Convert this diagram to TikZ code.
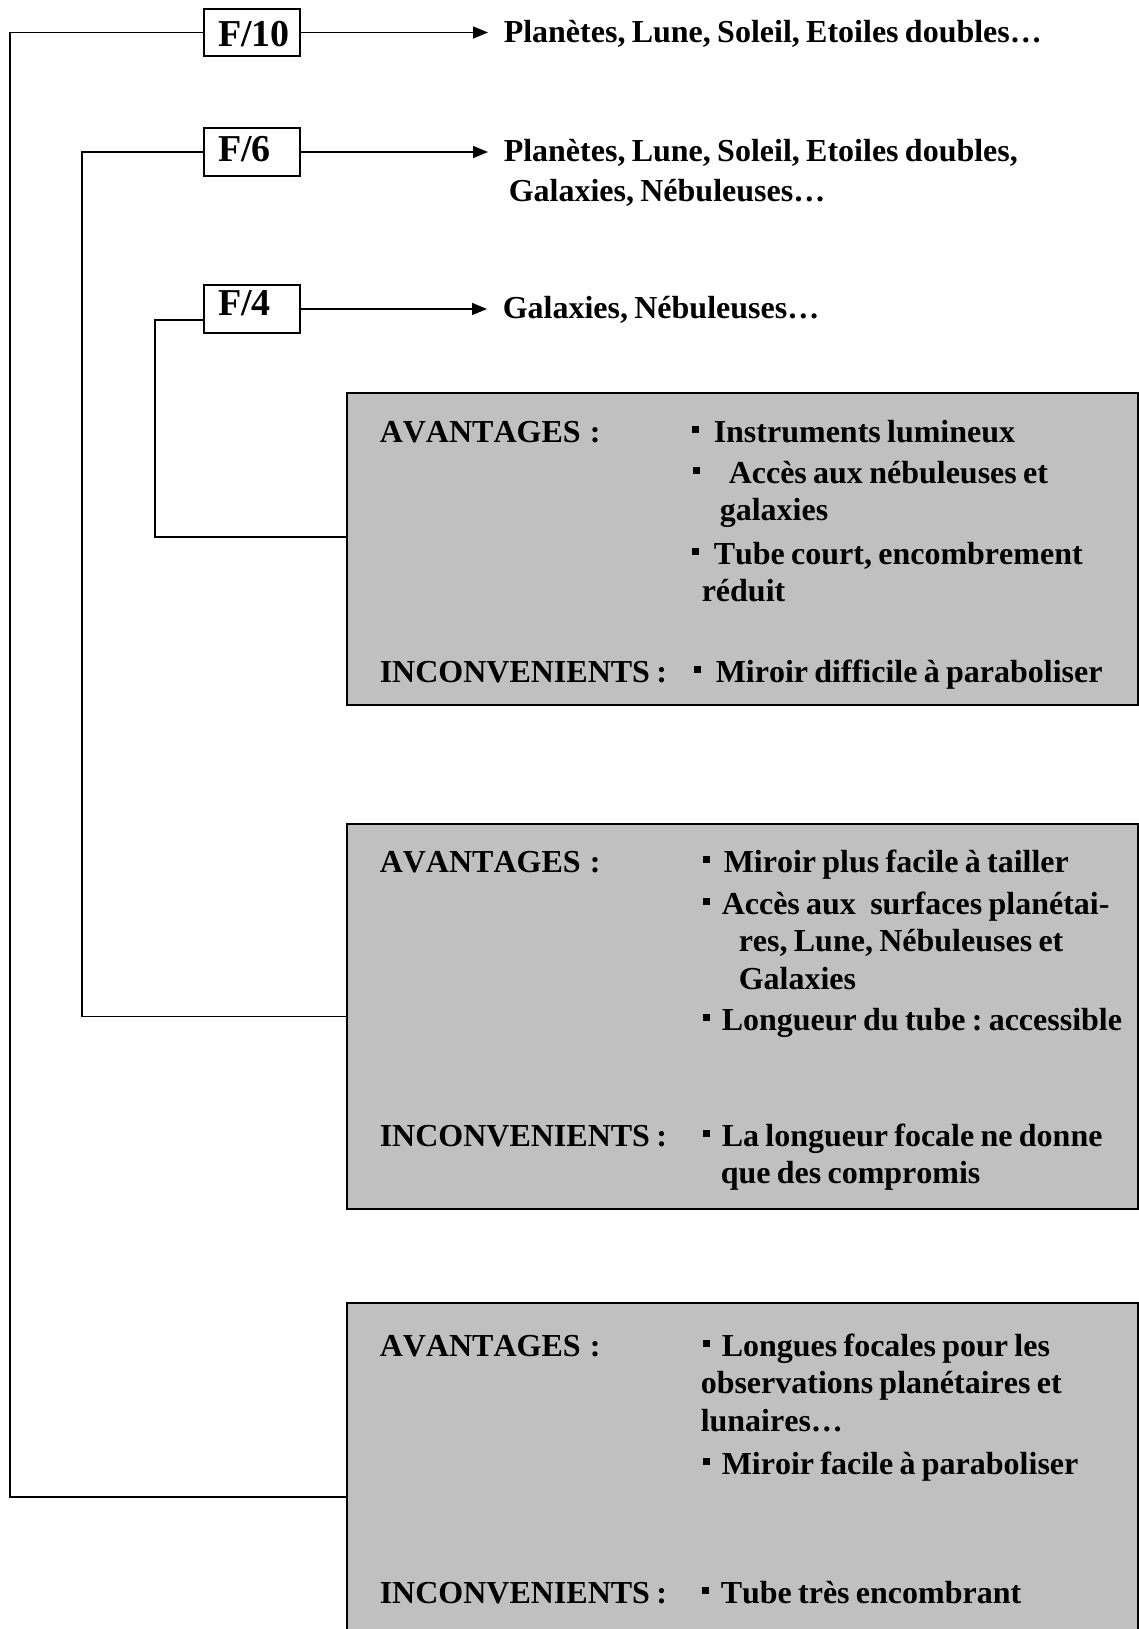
\documentclass[tikz,border=0pt]{standalone}
\usepackage{fontspec}
\setmainfont[Kerning=Off]{Liberation Serif}
\usetikzlibrary{arrows.meta}
\definecolor{panelgray}{RGB}{192,192,192}
\newcommand{\puce}{\rule[4.5pt]{3.5pt}{3.5pt}}
\newcommand{\serre}{\spaceskip=3.15pt plus 1pt minus 0.5pt\relax}
\frenchspacing

\begin{document}
\begin{tikzpicture}[x=0.5pt,y=-0.5pt,line width=0.75pt,
	fbox/.style={draw,line width=1pt,anchor=north west,inner xsep=7pt,inner ysep=0pt,
		text width=34pt,align=left,
		font=\fontsize{19pt}{21pt}\selectfont\bfseries},
	panel/.style={draw,line width=1.1pt,fill=panelgray,anchor=north west,inner sep=0pt,
		minimum width=395.5pt},
	txt/.style={anchor=base west,inner sep=0pt,text width=420pt,align=left,
		font=\fontsize{16pt}{18.75pt}\selectfont\bfseries,execute at begin node=\serre}]
	\useasboundingbox (0,0) rectangle (1139,1629);
	\clip (0,0) rectangle (1139,1629);
	% focal ratios
	\foreach \n/\y/\h/\d in {10/8/18.5/5, 6/127/16.5/7.5, 4/284/15/9}
	\node[fbox,text height=\h pt,text depth=\d pt] (f\n) at (203,\y) {F/\n};
	% what each one shows
	\node[txt] (t10) at (503,42) {Planètes, Lune, Soleil, Etoiles doubles…};
	\node[txt] (t6) at (503,161) {Planètes, Lune, Soleil, Etoiles doubles,\\[1.25pt]\hspace*{2.5pt}Galaxies, Nébuleuses…};
	\node[txt] (t4) at (502,318) {Galaxies, Nébuleuses…};
	\foreach \n in {10,6,4}
	\draw[-{Triangle[length=7.5pt,width=6pt]},shorten >=7.5pt] (f\n.east) -- (f\n.east -| t\n.west);
	% panels
	\node[panel,minimum height=156pt] (pan1) at (346,392) {};
	\node[panel,minimum height=192.5pt] (pan2) at (346,823) {};
	\node[panel,minimum height=194pt] (pan3) at (346,1302) {};
	\draw (f10.west) -| ([xshift=-168pt]pan3.west) -- (pan3.west);
	\draw (f6.west) -| ([xshift=-132pt]pan2.west) -- (pan2.west);
	\draw ([yshift=-5.5pt]f4.west) -| ([xshift=-95.5pt,yshift=6pt]pan1.west) -- ([yshift=6pt]pan1.west);
	% F/4
	\node[txt] (av1) at (379,442) {AVANTAGES\hspace{1.5pt} :};
	\node[txt] (p1a) at (691,442) {\puce\hspace{7.5pt}Instruments lumineux};
	\node[txt] (p1b) at (692,483) {\puce\hspace{14.5pt}Accès aux nébuleuses et\\\hspace*{13.5pt}galaxies};
	\node[txt] (p1c) at (691,564) {\puce\hspace{7.5pt}Tube court, encombrement\\\hspace*{5pt}réduit};
	\node[txt] (in1) at (379,682) {INCONVENIENTS :};
	\node[txt] (p1d) at (693,682) {\puce\hspace{7.5pt}Miroir difficile à paraboliser};
	% F/6
	\node[txt] (av2) at (379,872) {AVANTAGES\hspace{1.5pt} :};
	\node[txt] (p2a) at (702,872) {\puce\hspace{7pt}Miroir plus facile à tailler};
	\node[txt] (p2b) at (702,914) {\puce\hspace{6pt}Accès aux\hspace{4pt} surfaces planétai-\\\hspace*{18pt}res, Lune, Nébuleuses et\\\hspace*{18pt}Galaxies};
	\node[txt] (p2c) at (702,1030) {\puce\hspace{6pt}Longueur du tube : accessible};
	\node[txt] (in2) at (379,1146) {INCONVENIENTS :};
	\node[txt] (p2d) at (702,1146) {\puce\hspace{6pt}La longueur focale ne donne\\\hspace*{9pt}que des compromis};
	% F/10
	\node[txt] (av3) at (379,1356) {AVANTAGES\hspace{1.5pt} :};
	\node[txt] (p3a) at (702,1356) {\puce\hspace{6pt}Longues focales pour les\\\hspace*{-1pt}observations planétaires et\\\hspace*{-1pt}lunaires…};
	\node[txt] (p3b) at (702,1474) {\puce\hspace{6pt}Miroir facile à paraboliser};
	\node[txt] (in3) at (379,1603) {INCONVENIENTS :};
	\node[txt] (p3c) at (701,1603) {\puce\hspace{6pt}Tube très encombrant};
\end{tikzpicture}
\end{document}
